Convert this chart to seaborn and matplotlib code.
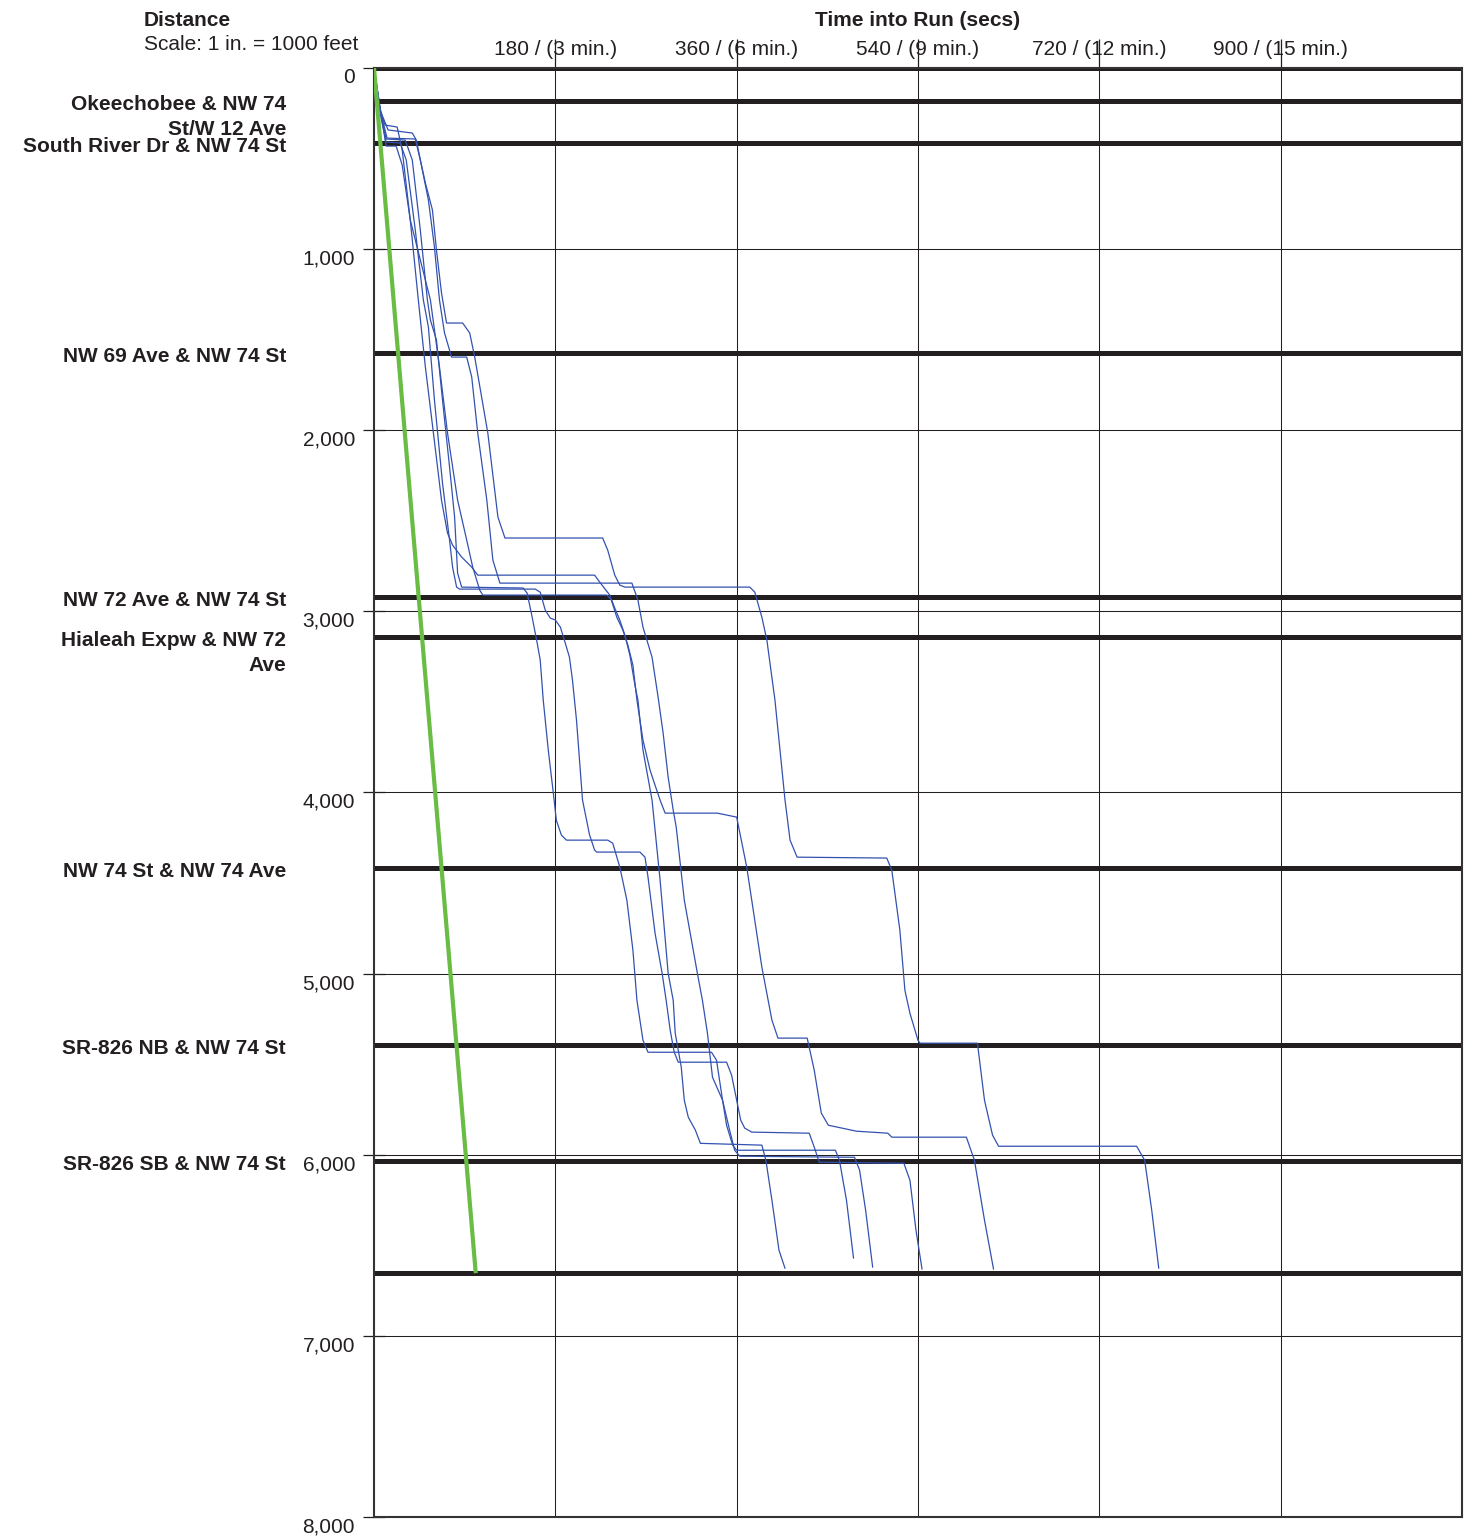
import numpy as np
import pandas as pd
import matplotlib
matplotlib.use('Agg')
import matplotlib.pyplot as plt
import matplotlib.transforms as mtransforms
import seaborn as sns

# --- data (time into run in secs, distance in feet) ---
run_a_t = [0, 8, 12, 22, 28, 36, 46, 56, 65, 73, 83, 92, 98, 105, 108, 231, 236, 239, 244, 249, 254, 259, 262,
           267, 276, 284, 292, 297, 299, 305, 308, 312, 319, 324, 385, 389, 395, 402, 408]
run_a_d = [0, 287, 431, 431, 536, 839, 1060, 1281, 1651, 2016, 2386, 2606, 2756, 2883, 2910, 2910, 2938, 2982,
           3048, 3131, 3242, 3407, 3490, 3766, 4042, 4484, 4998, 5147, 5329, 5516, 5699, 5793, 5864, 5937, 5947,
           6030, 6251, 6527, 6627]

run_b_t = [0, 7, 12, 31, 38, 46, 53, 56, 62, 68, 75, 80, 83, 87, 148, 152, 157, 162, 165, 168, 173, 178, 181,
           186, 191, 232, 237, 244, 251, 257, 261, 267, 272, 335, 340, 346, 350, 356, 360, 458, 462, 469, 476]
run_b_d = [0, 260, 392, 398, 508, 895, 1281, 1392, 1502, 1833, 2203, 2479, 2789, 2866, 2871, 2899, 3032, 3175,
           3269, 3490, 3766, 4003, 4153, 4235, 4263, 4263, 4280, 4412, 4594, 4870, 5147, 5368, 5434, 5434, 5478,
           5699, 5837, 5947, 5975, 5975, 6030, 6251, 6571]

run_c_t = [0, 6, 14, 38, 42, 48, 54, 60, 65, 70, 77, 92, 97, 103, 112, 118, 125, 256, 262, 267, 276, 282, 287,
           292, 297, 300, 308, 321, 326, 331, 336, 346, 353, 358, 363, 477, 482, 488, 495]
run_c_d = [0, 232, 342, 359, 398, 563, 729, 989, 1281, 1463, 1596, 1596, 1706, 2016, 2386, 2717, 2844, 2844,
           2938, 3087, 3253, 3473, 3672, 3915, 4097, 4191, 4594, 4998, 5147, 5329, 5572, 5699, 5864, 5975, 6008,
           6014, 6085, 6306, 6621]

run_d_t = [0, 7, 12, 26, 32, 41, 49, 54, 60, 68, 75, 78, 82, 85, 160, 165, 170, 175, 180, 185, 189, 194, 197,
           201, 207, 214, 219, 221, 264, 269, 272, 279, 286, 290, 294, 298, 302, 350, 355, 360, 364, 368, 375,
           432, 437, 442, 526, 532, 538, 544]
run_d_d = [0, 276, 409, 414, 508, 895, 1281, 1430, 1833, 2292, 2606, 2756, 2866, 2877, 2877, 2894, 2993, 3037,
           3048, 3087, 3159, 3253, 3379, 3600, 4042, 4235, 4318, 4329, 4329, 4357, 4467, 4777, 4998, 5147, 5312,
           5434, 5489, 5489, 5561, 5699, 5809, 5853, 5875, 5881, 5958, 6041, 6047, 6141, 6417, 6632]

run_e_t = [0, 6, 11, 23, 28, 36, 44, 51, 59, 67, 73, 78, 87, 97, 103, 219, 224, 234, 241, 247, 252, 257, 261,
           267, 274, 279, 284, 289, 341, 360, 370, 385, 395, 401, 430, 437, 444, 451, 479, 510, 514, 588, 596,
           606, 615]
run_e_d = [0, 232, 315, 326, 453, 839, 1281, 1651, 2016, 2386, 2568, 2634, 2700, 2756, 2800, 2800, 2838, 2910,
           3032, 3103, 3186, 3297, 3490, 3711, 3876, 3960, 4042, 4114, 4114, 4136, 4412, 4964, 5257, 5356, 5356,
           5533, 5770, 5837, 5870, 5881, 5903, 5903, 6030, 6361, 6632]

run_f_t = [0, 6, 13, 41, 46, 51, 58, 62, 67, 72, 88, 95, 100, 113, 123, 130, 227, 232, 239, 244, 249, 373, 378,
           385, 390, 398, 408, 413, 420, 509, 514, 522, 527, 532, 540, 542, 599, 606, 614, 620, 757, 765, 772, 779]
run_f_d = [0, 232, 387, 392, 508, 635, 784, 1005, 1242, 1408, 1408, 1463, 1596, 2016, 2479, 2595, 2595, 2662,
           2800, 2855, 2866, 2866, 2894, 3032, 3159, 3490, 4042, 4263, 4357, 4362, 4429, 4760, 5092, 5219, 5368,
           5384, 5384, 5699, 5892, 5953, 5953, 6030, 6306, 6627]

ideal_t = [0, 101]
ideal_d = [0, 6654]

station_d = [0, 182, 414, 1574, 2921, 3142, 4418, 5395, 6036, 6654]
station_lbl = ['', 'Okeechobee & NW 74\nSt/W 12 Ave', 'South River Dr & NW 74 St', 'NW 69 Ave & NW 74 St',
               'NW 72 Ave & NW 74 St', 'Hialeah Expw & NW 72\nAve', 'NW 74 St & NW 74 Ave',
               'SR-826 NB & NW 74 St', 'SR-826 SB & NW 74 St', '']

x_ticks = [180, 360, 540, 720, 900]
x_ticklabels = ['180 / (3 min.)', '360 / (6 min.)', '540 / (9 min.)', '720 / (12 min.)', '900 / (15 min.)']
y_ticks = [0, 1000, 2000, 3000, 4000, 5000, 6000, 7000, 8000]
y_ticklabels = ['0', '1,000', '2,000', '3,000', '4,000', '5,000', '6,000', '7,000', '8,000']

runs = [run_a_t, run_b_t, run_c_t, run_d_t, run_e_t, run_f_t]
dists = [run_a_d, run_b_d, run_c_d, run_d_d, run_e_d, run_f_d]
df = pd.concat([pd.DataFrame({'t': t, 'd': d, 'run': i}) for i, (t, d) in enumerate(zip(runs, dists))],
               ignore_index=True)

sns.set_theme(style='white')
plt.rcParams['font.family'] = ['Liberation Sans', 'DejaVu Sans']

FS = 15
W, H = 1477, 1538
fig = plt.figure(figsize=(W / 100, H / 100), dpi=100)
ax = fig.add_axes([374 / W, 1 - 1517 / H, 1088 / W, 1449 / H])

for d in station_d:
    ax.axhline(d, color='#231f20', lw=3.6, zorder=2)

sns.lineplot(data=df, x='t', y='d', units='run', estimator=None, sort=False,
             color='#3352b0', lw=0.9, ax=ax, zorder=3, legend=False)
ax.plot(ideal_t, ideal_d, color='#69bd45', lw=3.0, zorder=4, solid_capstyle='butt')

ax.set_xlim(0, 1080)
ax.set_ylim(8000, 0)
ax.set_xlabel('')
ax.set_ylabel('')

ax.xaxis.tick_top()
ax.set_xticks(x_ticks)
ax.set_xticklabels(x_ticklabels)
ax.set_yticks(y_ticks)
ax.set_yticklabels(y_ticklabels)
ax.tick_params(axis='x', which='major', direction='out', length=21, width=0.9, pad=-14.5,
               labelsize=FS, colors='#231f20', top=True, bottom=False)
ax.tick_params(axis='y', which='major', direction='inout', length=16.5, width=0.9, pad=5.4,
               labelsize=FS, colors='#231f20', left=True)
ax.grid(True, color='#231f20', lw=0.75, zorder=1)
ax.set_axisbelow(True)
for s in ax.spines.values():
    s.set_color('#333333')
    s.set_linewidth(1.5)

off = mtransforms.ScaledTranslation(0, -8 / 100, fig.dpi_scale_trans)
for tk in ax.yaxis.get_major_ticks():
    tk.label1.set_transform(tk.label1.get_transform() + off)

lbl_trans = mtransforms.blended_transform_factory(ax.transAxes, ax.transData) + \
    mtransforms.ScaledTranslation(0, 6 / 100, fig.dpi_scale_trans)
for d, lbl in zip(station_d, station_lbl):
    if lbl:
        ax.text((286 - 374) / 1088, d, lbl, transform=lbl_trans, ha='right', va='top',
                multialignment='right', fontsize=FS, fontweight='bold', color='#231f20',
                linespacing=1.37, clip_on=False)

fig.text(918 / W, 1 - 20 / H, 'Time into Run (secs)', ha='center', va='center',
         fontsize=FS, fontweight='bold', color='#231f20')
fig.text(144 / W, 1 - 20 / H, 'Distance', ha='left', va='center',
         fontsize=FS, fontweight='bold', color='#231f20')
fig.text(144 / W, 1 - 45 / H, 'Scale: 1 in. = 1000 feet', ha='left', va='center',
         fontsize=FS, color='#231f20')

fig.savefig('out.png', dpi=100, facecolor='white')
